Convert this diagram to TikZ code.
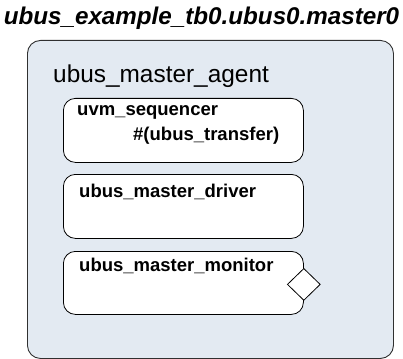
\documentclass[tikz,border=0pt]{standalone}
\usepackage{fontspec}
\setmainfont{Liberation Sans}
\usetikzlibrary{shapes.geometric}
\definecolor{agentfill}{HTML}{E3EAF2}
\definecolor{agentline}{HTML}{303030}

\begin{document}
\begin{tikzpicture}[x=1pt, y=-1pt,
    agentbox/.style={draw=agentline, fill=agentfill, rounded corners=13pt, line width=0.9pt},
    compbox/.style={draw=black, fill=white, rounded corners=12pt, line width=0.8pt,
      minimum width=240pt, minimum height=64pt, inner sep=0pt},
    complabel/.style={anchor=base west, inner sep=0pt, font=\fontsize{18.5}{20}\selectfont\bfseries},
    port/.style={diamond, draw=black, fill=white, line width=0.8pt, inner sep=0pt,
      minimum width=33pt, minimum height=32pt}]
  \useasboundingbox (0,0) rectangle (403,358);
  % Title
  \node[anchor=base, inner sep=0pt, font=\fontsize{24.2}{26}\selectfont\bfseries\itshape]
    (title) at (201.5,25) {ubus\_example\_tb0.ubus0.master0};
  % Agent
  \node[agentbox, anchor=north west, minimum width=366pt, minimum height=318pt, inner sep=0pt]
    (agent) at (27,40) {};
  \node[anchor=base west, inner sep=0pt, font=\fontsize{24.4}{26}\selectfont]
    (agentlbl) at (53,83) {ubus\_master\_agent};
  % Components
  \node[compbox, anchor=north west] (seqr) at (63,98) {};
  \node[complabel] (seqrlbl) at (77,116) {uvm\_sequencer};
  \node[complabel] (seqrpar) at (133,140) {\#(ubus\_transfer)};
  \node[compbox, anchor=north west] (drv) at (63,174) {};
  \node[complabel] (drvlbl) at (79,197) {ubus\_master\_driver};
  \node[compbox, anchor=north west, minimum height=63pt] (mon) at (63,251) {};
  \node[complabel] (monlbl) at (79,271) {ubus\_master\_monitor};
  % Analysis port
  \node[port] (monport) at ([yshift=-1.5pt]mon.east) {};
\end{tikzpicture}
\end{document}
